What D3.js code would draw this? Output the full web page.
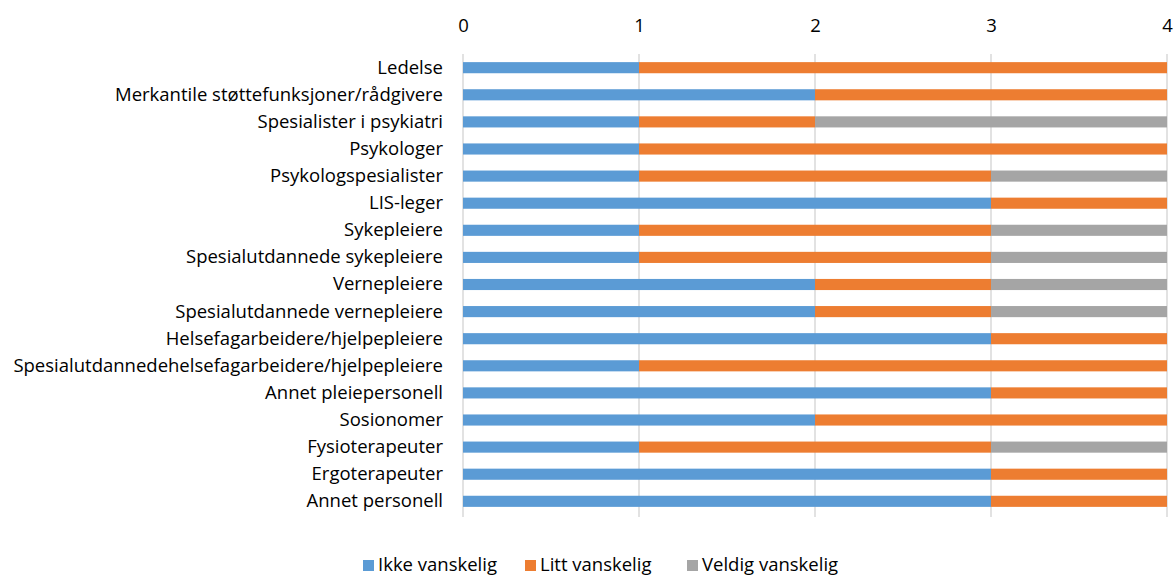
<!DOCTYPE html>
<html>
<head>
<meta charset="utf-8">
<script src="https://cdn.jsdelivr.net/npm/d3@7"></script>
<style>
  body { margin: 0; background: #fff; }
  svg text { font-family: "Open Sans", sans-serif; fill: #000; }
</style>
</head>
<body>
<script>
var categories = [
  "Ledelse",
  "Merkantile støttefunksjoner/rådgivere",
  "Spesialister i psykiatri",
  "Psykologer",
  "Psykologspesialister",
  "LIS-leger",
  "Sykepleiere",
  "Spesialutdannede sykepleiere",
  "Vernepleiere",
  "Spesialutdannede vernepleiere",
  "Helsefagarbeidere/hjelpepleiere",
  "Spesialutdannedehelsefagarbeidere/hjelpepleiere",
  "Annet pleiepersonell",
  "Sosionomer",
  "Fysioterapeuter",
  "Ergoterapeuter",
  "Annet personell"
];
var seriesNames = ["Ikke vanskelig", "Litt vanskelig", "Veldig vanskelig"];
var ikke   = [1, 2, 1, 1, 1, 3, 1, 1, 2, 2, 3, 1, 3, 2, 1, 3, 3];
var litt   = [3, 2, 1, 3, 2, 1, 2, 2, 1, 1, 1, 3, 1, 2, 2, 1, 1];
var veldig = [0, 0, 2, 0, 1, 0, 1, 1, 1, 1, 0, 0, 0, 0, 1, 0, 0];
var xTicks = [0, 1, 2, 3, 4];

var colors = ["#5B9BD5", "#ED7D31", "#A5A5A5"];

var W = 1175, H = 575;
var margin = { left: 463, right: 8, top: 54, bottom: 60 };
var fontSize = 18.5;

var svg = d3.select("body").append("svg")
  .attr("width", W)
  .attr("height", H);

var x = d3.scaleLinear().domain([0, 4]).range([margin.left, W - margin.right]);
var y = d3.scaleBand().domain(categories).range([margin.top, H - margin.bottom]).paddingInner(0.59).paddingOuter(0.3);

// gridlines
svg.append("g").selectAll("line").data(xTicks).enter().append("line")
  .attr("x1", function(d) { return x(d); })
  .attr("x2", function(d) { return x(d); })
  .attr("y1", margin.top)
  .attr("y2", H - margin.bottom + 2)
  .attr("stroke", "#D9D9D9")
  .attr("stroke-width", 1.5);

// top axis labels
var xAxis = svg.append("g")
  .attr("transform", "translate(0," + 32 + ")")
  .call(d3.axisTop(x).tickValues(xTicks).tickFormat(d3.format("d")).tickSize(0).tickPadding(0));
xAxis.select(".domain").remove();
xAxis.attr("font-family", null).attr("font-size", null);
xAxis.selectAll("text").attr("font-size", fontSize);

// stacked bars
var rows = categories.map(function(c, i) {
  return { cat: c, v0: ikke[i], v1: litt[i], v2: veldig[i] };
});
var stack = d3.stack().keys(["v0", "v1", "v2"])(rows);

svg.append("g").selectAll("g").data(stack).enter().append("g")
  .attr("fill", function(d, i) { return colors[i]; })
  .selectAll("rect").data(function(d) { return d; }).enter().append("rect")
  .attr("x", function(d) { return x(d[0]); })
  .attr("y", function(d) { return y(d.data.cat); })
  .attr("width", function(d) { return x(d[1]) - x(d[0]); })
  .attr("height", y.bandwidth());

// category labels
var yAxis = svg.append("g")
  .attr("transform", "translate(" + (margin.left - 20) + ",0)")
  .call(d3.axisLeft(y).tickSize(0).tickPadding(0));
yAxis.select(".domain").remove();
yAxis.attr("font-family", null).attr("font-size", null);
yAxis.selectAll("text").attr("font-size", fontSize);

// legend
var legendX = [363, 525, 687];
var legend = svg.append("g").selectAll("g").data(seriesNames).enter().append("g")
  .attr("transform", function(d, i) { return "translate(" + legendX[i] + "," + 565 + ")"; });
legend.append("rect")
  .attr("x", 0).attr("y", -5).attr("width", 11).attr("height", 11)
  .attr("fill", function(d, i) { return colors[i]; });
legend.append("text")
  .attr("x", 15).attr("y", 6)
  .attr("font-size", fontSize)
  .text(function(d) { return d; });
</script>
</body>
</html>
